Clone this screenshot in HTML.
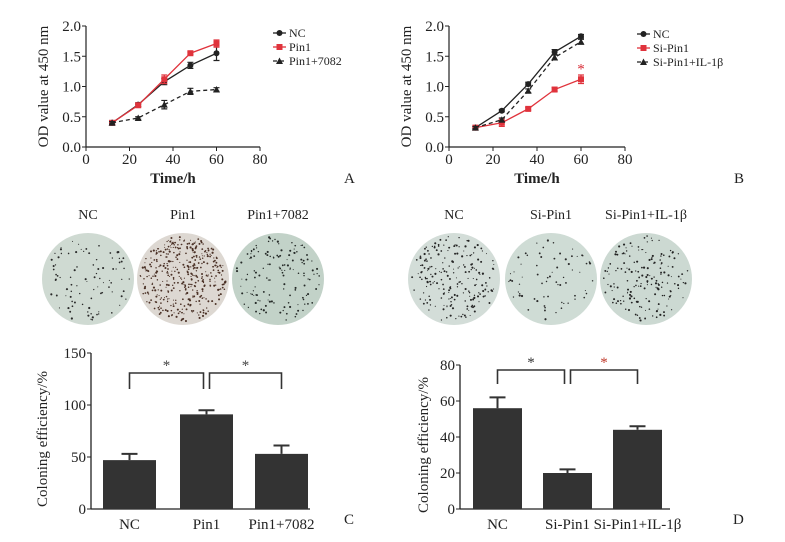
<!DOCTYPE html>
<html><head><meta charset="utf-8"><style>
html,body{margin:0;padding:0;background:#fff;}
svg{display:block;font-family:"Liberation Serif",serif;}
</style></head><body>
<svg id="fig" width="785" height="542" viewBox="0 0 785 542"></svg>
<script>
// ---- Data ----
const timePoints=[12,24,36,48,60];
const aNC=[0.40,0.70,1.08,1.35,1.55], aNCerr=[0.03,0.03,0.05,0.05,0.12];
const aPin=[0.40,0.69,1.12,1.55,1.71], aPinErr=[0.03,0.03,0.07,0.02,0.06];
const aInh=[0.40,0.48,0.70,0.92,0.95], aInhErr=[0.02,0.02,0.07,0.05,0.03];
const bNC=[0.32,0.60,1.04,1.57,1.83], bNCerr=[0.02,0.02,0.03,0.04,0.03];
const bSi=[0.32,0.40,0.63,0.95,1.12], bSiErr=[0.02,0.06,0.02,0.03,0.07];
const bIL=[0.32,0.45,0.93,1.48,1.74], bILerr=[0.02,0.03,0.03,0.04,0.04];
const lineYTicks=[0,0.5,1.0,1.5,2.0];
const lineXTicks=[0,20,40,60,80];
const cCats=["NC","Pin1","Pin1+7082"], cVals=[47,91,53], cErr=[6,4,8];
const cTicks=[0,50,100,150];
const dCats=["NC","Si-Pin1","Si-Pin1+IL-1β"], dVals=[56,20,44], dErr=[6,2,2];
const dTicks=[0,20,40,60,80];

const NS="http://www.w3.org/2000/svg";
const svg=document.getElementById('fig');
function el(tag,attrs,parent,text){const e=document.createElementNS(NS,tag);for(const k in attrs)e.setAttribute(k,attrs[k]);if(text!==undefined)e.textContent=text;(parent||svg).appendChild(e);return e;}
function grp(name){const g=document.createElementNS(NS,'g');


svg.appendChild(g);return g;}

function marker(g,shape,x,y,c){
 if(shape==='circle')el('circle',{cx:x,cy:y,r:3,fill:c},g);
 else if(shape==='square')el('rect',{x:x-3,y:y-3,width:6,height:6,fill:c},g);
 else el('polygon',{points:`${x},${y-3.5} ${x+3.5},${y+3} ${x-3.5},${y+3}`,fill:c},g);
}

function lineChart(o){
 const g=grp(o.name);
 const sx=v=>o.x0+(v/80)*(o.x1-o.x0), sy=v=>o.y0-(v/2)*(o.y0-o.y1);
 el('line',{x1:o.x0,y1:o.y0,x2:o.x1,y2:o.y0,stroke:'#222','stroke-width':1.2},g);
 el('line',{x1:o.x0,y1:o.y0,x2:o.x0,y2:o.y1,stroke:'#222','stroke-width':1.2},g);
 lineYTicks.forEach(t=>{el('line',{x1:o.x0-4,y1:sy(t),x2:o.x0,y2:sy(t),stroke:'#222'},g);
  el('text',{x:o.x0-5,y:sy(t)+5,'text-anchor':'end','font-size':15,fill:'#222'},g,t.toFixed(1));});
 lineXTicks.forEach(t=>{el('line',{x1:sx(t),y1:o.y0,x2:sx(t),y2:o.y0+4,stroke:'#222'},g);
  el('text',{x:sx(t),y:o.y0+17,'text-anchor':'middle','font-size':15,fill:'#222'},g,t);});
 el('text',{x:(o.x0+o.x1)/2,y:o.y0+36,'text-anchor':'middle','font-size':15,'font-weight':'bold',fill:'#222'},g,'Time/h');
 const yt=el('text',{transform:`translate(${o.x0-38},${(o.y0+o.y1)/2}) rotate(-90)`,'text-anchor':'middle','font-size':15,fill:'#222'},g,'OD value at 450 nm');
 
 o.series.forEach((s,i)=>{
  const sg=el('g',{},g);
  
  
  el('polyline',{points:timePoints.map((t,j)=>sx(t)+','+sy(s.v[j])).join(' '),fill:'none',stroke:s.c,'stroke-width':1.3,'stroke-dasharray':s.dash||''},sg);
  timePoints.forEach((t,j)=>{const x=sx(t),y1=sy(s.v[j]+s.e[j]),y2=sy(s.v[j]-s.e[j]);
   el('path',{d:`M${x},${y1}V${y2}M${x-3},${y1}H${x+3}M${x-3},${y2}H${x+3}`,stroke:s.c,'stroke-width':1.2},sg);
   marker(sg,s.m,x,sy(s.v[j]),s.c);});
  const ly=o.legY+i*14;
  const lg=el('g',{},g);
  
  
  el('line',{x1:o.legX,y1:ly,x2:o.legX+13,y2:ly,stroke:s.c,'stroke-width':1.3,'stroke-dasharray':s.dash||''},lg);
  marker(lg,s.m,o.legX+6.5,ly,s.c);
  el('text',{x:o.legX+16,y:ly+4,'font-size':12,fill:'#222'},lg,s.label);
 });
 if(o.star){const st=el('text',{x:sx(60),y:sy(1.3)+5,'text-anchor':'middle','font-size':15,fill:'#d9303a'},g,'*');}
 el('text',{x:o.panelX,y:183,'font-size':15,fill:'#222'},g,o.panel);
}
lineChart({name:'chart-a',x0:86,x1:260,y0:147,y1:26,legX:273,legY:33,panelX:344,panel:'A',series:[
 {key:'nc',label:'NC',v:aNC,e:aNCerr,c:'#222',m:'circle'},
 {key:'pin1',label:'Pin1',v:aPin,e:aPinErr,c:'#e0333c',m:'square'},
 {key:'pin1-7082',label:'Pin1+7082',v:aInh,e:aInhErr,c:'#222',m:'tri',dash:'4,3'}]});
lineChart({name:'chart-b',x0:449,x1:625,y0:147,y1:26,legX:637,legY:34,panelX:734,panel:'B',star:true,series:[
 {key:'nc',label:'NC',v:bNC,e:bNCerr,c:'#222',m:'circle'},
 {key:'si-pin1',label:'Si-Pin1',v:bSi,e:bSiErr,c:'#e0333c',m:'square'},
 {key:'si-pin1-il1b',label:'Si-Pin1+IL-1β',v:bIL,e:bILerr,c:'#222',m:'tri',dash:'4,3'}]});

// ---- Plates (photo mimic) ----
let seed=7;function rnd(){seed=(seed*16807)%2147483647;return seed/2147483647;}
const plateDefs=[
 {cx:88,label:'NC',bg:'#cfdad2',dot:'#2a2a2a',n:90},
 {cx:183,label:'Pin1',bg:'#ddd8d2',dot:'#4a3025',n:420},
 {cx:278,label:'Pin1+7082',bg:'#c2d2c8',dot:'#252a28',n:140},
 {cx:454,label:'NC',bg:'#d3ddd8',dot:'#252525',n:210},
 {cx:551,label:'Si-Pin1',bg:'#cfdcd5',dot:'#2a2a2a',n:70},
 {cx:646,label:'Si-Pin1+IL-1β',bg:'#ccd9d2',dot:'#222',n:170}];
const pg=grp('colony-plates');
plateDefs.forEach((p,i)=>{
 const g=el('g',{},pg);
 
 
 el('text',{x:p.cx,y:219,'text-anchor':'middle','font-size':14,fill:'#222'},g,p.label);
 el('ellipse',{cx:p.cx,cy:279,rx:46,ry:46,fill:p.bg},g);
 for(let k=0;k<p.n;k++){const a=rnd()*Math.PI*2,r=Math.sqrt(rnd())*43;
  el('circle',{cx:p.cx+r*Math.cos(a),cy:279+r*Math.sin(a),r:0.5+rnd()*0.6,fill:p.dot},g);}
});

// ---- Bar charts ----
function barChart(o){
 const g=grp(o.name);
 const sy=v=>o.y0-(v/o.max)*(o.y0-o.y1);
 el('line',{x1:o.x0,y1:o.y0,x2:o.x1,y2:o.y0,stroke:'#222','stroke-width':1.3},g);
 el('line',{x1:o.x0,y1:o.y0,x2:o.x0,y2:o.y1,stroke:'#222','stroke-width':1.3},g);
 o.ticks.forEach(t=>{el('line',{x1:o.x0-4,y1:sy(t),x2:o.x0,y2:sy(t),stroke:'#222'},g);
  el('text',{x:o.x0-5,y:sy(t)+5,'text-anchor':'end','font-size':15,fill:'#222'},g,t);});
 const yl=el('text',{transform:`translate(${o.ytX},${(o.y0+o.y1)/2+8}) rotate(-90)`,'text-anchor':'middle','font-size':15,fill:'#222'},g,'Coloning efficiency/%');
 
 const centers=[];
 o.vals.forEach((v,i)=>{const bx=o.bx[i],w=o.bw,cx=bx+w/2;centers.push(cx);
  const b=el('rect',{x:bx,y:sy(v),width:w,height:o.y0-sy(v),fill:'#333'},g);
  
  
  el('path',{d:`M${cx},${sy(v)}V${sy(v+o.err[i])}M${cx-8},${sy(v+o.err[i])}H${cx+8}`,stroke:'#333','stroke-width':2},g);
  el('text',{x:cx,y:o.y0+20,'text-anchor':'middle','font-size':15,fill:'#222'},g,o.cats[i]);});
 [[0,1],[1,2]].forEach(([a,b],k)=>{const x1=centers[a]+(a===1?3:0),x2=centers[b]-(b===1?3:0);
  el('path',{d:`M${x1},${o.bb}V${o.bt}H${x2}V${o.bb}`,fill:'none',stroke:'#333','stroke-width':1.6},g);
  el('text',{x:(x1+x2)/2,y:o.bt-3,'text-anchor':'middle','font-size':15,fill:o.starC[k]},g,'*');});
 el('text',{x:o.panelX,y:524,'font-size':15,fill:'#222'},g,o.panel);
}
barChart({name:'chart-c',x0:91,x1:310,y0:509,y1:353,max:150,ticks:cTicks,cats:cCats,vals:cVals,err:cErr,bx:[103,180,255],bw:53,bt:373,bb:389,ytX:47,starC:['#444','#444'],panelX:344,panel:'C'});
barChart({name:'chart-d',x0:460,x1:670,y0:509,y1:365,max:80,ticks:dTicks,cats:dCats,vals:dVals,err:dErr,bx:[473,543,613],bw:49,bt:370,bb:384,ytX:428,starC:['#333','#c0392b'],panelX:733,panel:'D'});
</script>
</body></html>
